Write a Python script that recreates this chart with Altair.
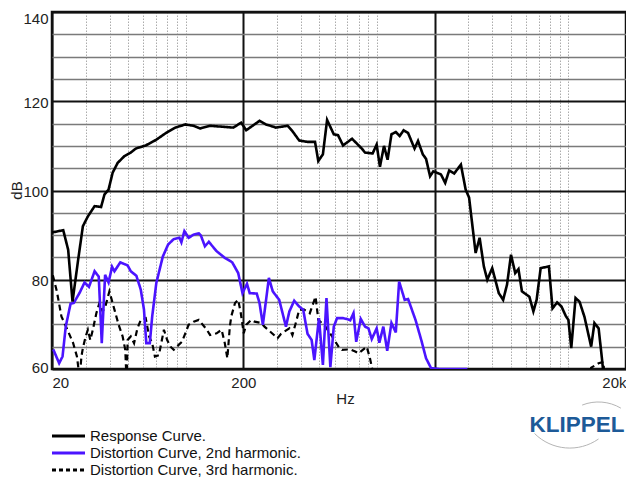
import altair as alt
import pandas as pd

# ---- data ----
resp_f = [20, 22.9, 24.3, 25.6, 27.4, 29, 30.8, 33.4, 36.1, 37.6, 39.5, 41.5, 44.1, 47.8, 51.6, 54.8,
          61.8, 69.7, 78.3, 88.3, 99.5, 110, 119, 134, 177, 195, 207, 243, 263, 296, 341, 361, 392,
          433, 474, 493, 521, 548, 594, 625, 664, 740, 832, 865, 948, 995, 1035, 1087, 1135, 1189,
          1253, 1312, 1377, 1452, 1570, 1637, 1734, 1803, 1892, 1968, 2158, 2270, 2382, 2529, 2742,
          2904, 3027, 3274, 3436, 3614, 3767, 3998, 4326, 4560, 4777, 5012, 5272, 5483, 5715, 6252,
          6561, 6823, 7161, 7907, 8260, 8730, 9205, 9684, 10000, 10350, 10900, 11430, 12130, 13150,
          13680, 14390, 15000, 15240]
resp_db = [90.6, 91.1, 86.7, 75.1, 84.5, 92.0, 94.2, 96.5, 96.3, 99.1, 100.2, 104.0, 106.2, 107.7,
           108.5, 109.4, 110.1, 111.3, 112.8, 114.1, 114.8, 114.5, 113.9, 114.5, 114.1, 115.2, 113.5,
           115.6, 114.8, 114.1, 114.5, 113.3, 111.2, 110.9, 110.9, 106.6, 108.1, 115.8, 112.6, 112.4,
           110.1, 111.6, 109.4, 108.5, 108.3, 110.3, 105.3, 110.0, 106.9, 112.6, 113.1, 112.2, 113.5,
           112.9, 109.4, 111.1, 108.1, 107.1, 103.2, 104.3, 103.6, 101.7, 104.5, 103.8, 105.8, 100.2,
           98.4, 86.0, 89.4, 83.0, 80.0, 82.6, 77.0, 75.5, 78.9, 85.6, 81.5, 82.4, 77.4, 76.2, 72.9,
           75.5, 82.6, 83.0, 73.6, 74.9, 74.0, 71.9, 71.0, 64.7, 75.9, 75.1, 71.7, 65.0, 70.3, 69.1,
           62.0, 59.0]

h2_f = [20.3, 21.8, 22.7, 23.6, 25, 26, 27.9, 29.6, 31.2, 33.4, 35.1, 36.4, 37.9, 39.5, 41.2, 42.4,
        45.5, 49.7, 51.6, 55.2, 58.2, 60.5, 62.2, 64.9, 66.8, 70.2, 75.9, 80.9, 86.5, 92.7, 94.9,
        98.4, 103.5, 110, 117, 120, 126, 132, 145, 160, 175, 188, 198, 209, 216, 235, 243, 253, 272,
        285, 308, 334, 348, 369, 392, 411, 433, 455, 470, 497, 521, 544, 570, 594, 618, 664, 697,
        724, 753, 778, 822, 865, 902, 938, 995, 1028, 1078, 1130, 1189, 1253, 1304, 1394, 1452,
        1588, 1702, 1803, 1915, 2114, 2372, 2966]
h2_db = [64.4, 61.3, 62.8, 69.5, 74.6, 74.8, 77.1, 79.4, 78.4, 81.9, 80.7, 65.8, 81.1, 79.4, 82.9,
         81.9, 83.9, 83.2, 81.9, 80.9, 77.8, 73.3, 65.8, 65.8, 71.8, 79.3, 85.2, 87.9, 89.1, 89.4,
         88.4, 90.9, 89.4, 90.1, 90.4, 89.9, 87.5, 88.5, 86.4, 84.9, 83.9, 81.5, 77.0, 79.1, 77.0,
         76.9, 74.8, 69.9, 80.4, 77.4, 75.5, 69.5, 72.9, 75.3, 74.0, 73.3, 67.9, 66.5, 62.0, 71.4,
         60.9, 75.9, 60.4, 69.5, 71.4, 71.4, 71.2, 70.9, 72.5, 66.1, 71.2, 69.5, 69.1, 66.7, 69.1,
         65.9, 69.5, 64.1, 70.3, 68.2, 79.6, 75.5, 75.7, 71.0, 66.5, 62.4, 60.2, 60.0, 60.0, 60.0]

h3_f = [20.2, 21.2, 22.4, 24.3, 25.8, 27, 27.9, 28.5, 29, 30, 30.8, 31.7, 32.7, 34.1, 35.4, 36.8, 38,
        39.9, 42.4, 44.6, 46.8, 48.3, 49.1, 49.7, 51.6, 53.7, 55.9, 58.2, 61.8, 64.3, 66.8, 69, 72.4,
        76.9, 80, 83.2, 86.5, 91.8, 95.5, 99.5, 103.5, 110, 117, 129, 134, 145, 154, 160, 165, 170,
        173, 181, 188, 194, 201, 207, 220, 229, 248, 258, 302, 315, 348, 361, 376, 392, 416, 445,
        477, 493, 538, 582, 631, 656, 724, 769, 800, 883, 918, 938, 972, 12500, 13150, 14390,
        15240, 15500]
h3_db = [81.0, 77.4, 71.8, 68.4, 65.8, 62.8, 58.0, 62.8, 64.7, 67.3, 68.8, 66.5, 68.8, 72.5, 74.8,
         72.9, 74.0, 77.4, 73.3, 69.9, 67.3, 64.3, 57.0, 66.5, 67.3, 65.8, 69.1, 71.0, 71.4, 67.3,
         65.8, 62.8, 63.1, 68.8, 66.5, 65.0, 64.3, 65.4, 66.1, 68.0, 69.9, 70.6, 71.0, 68.8, 67.6,
         68.0, 68.8, 65.8, 62.4, 69.5, 71.8, 74.8, 75.5, 72.5, 68.0, 69.9, 71.0, 70.6, 70.3, 69.5,
         66.9, 67.9, 69.1, 67.6, 70.3, 73.3, 73.3, 72.5, 76.2, 71.0, 69.5, 67.3, 64.9, 64.3, 64.4,
         63.9, 63.5, 65.0, 62.4, 60.5, 57.0, 57.0, 60.3, 61.3, 61.6, 57.0]

series_names = ["Response Curve.", "Distortion Curve, 2nd harmonic.", "Distortion Curve, 3rd harmonic."]
series_colors = ["#000000", "#4b14ff", "#000000"]

x_ticks = [20, 30, 40, 50, 60, 70, 80, 90, 100, 200, 300, 400, 500, 600, 700, 800, 900, 1000,
           2000, 3000, 4000, 5000, 6000, 7000, 8000, 9000, 10000, 20000]
y_ticks = [60, 65, 70, 75, 80, 85, 90, 95, 100, 105, 110, 115, 120, 125, 130, 135, 140]

FONT = "Liberation Sans"

df_r = pd.DataFrame({"f": resp_f, "db": resp_db})
df_2 = pd.DataFrame({"f": h2_f, "db": h2_db})
df_3 = pd.DataFrame({"f": h3_f, "db": h3_db})

xmaj = "indexof([20,200,2000,20000], datum.value) >= 0"
ymaj = "datum.value % 20 === 0"

W, H = 574, 357

xscale = alt.Scale(type="log", domain=[20, 20000], nice=False)
yscale = alt.Scale(domain=[60, 140], nice=False, zero=False)

xaxis = alt.Axis(
    values=x_ticks, title="Hz", ticks=False, tickSize=0, domain=False,
    labelExpr="datum.value == 20 ? '20' : datum.value == 200 ? '200' : datum.value == 20000 ? '20k' : ''",
    labelFlush=True, labelOverlap=False, labelPadding=6, labelFontSize=15, labelFont=FONT,
    labelColor="#222", titleFontSize=15, titleFont=FONT, titleFontWeight="normal",
    titleColor="#222", titlePadding=1, titleX=293,
    grid=True,
    gridColor={"condition": {"test": xmaj, "value": "#111111"}, "value": "#ababab"},
    gridDash={"condition": {"test": xmaj, "value": [1, 0]}, "value": [1.5, 1.5]},
    gridWidth={"condition": {"test": xmaj, "value": 2}, "value": 1},
)
yaxis = alt.Axis(
    values=y_ticks, title="dB", ticks=False, tickSize=0, domain=False,
    labelExpr="datum.value % 20 === 0 ? datum.label : ''",
    labelOverlap=False, labelPadding=4, labelFontSize=15, labelFont=FONT, labelColor="#222",
    labelOffset={"condition": [{"test": "datum.value === 140", "value": 6},
                               {"test": "datum.value === 60", "value": -2}], "value": 1},
    titleFontSize=15, titleFont=FONT, titleFontWeight="normal", titleColor="#222",
    titleX=-36, titleY=178, titleAlign="center", titleBaseline="middle", titleAngle=270,
    grid=True,
    gridColor={"condition": {"test": ymaj, "value": "#111111"}, "value": "#7a7a7a"},
    gridWidth={"condition": {"test": ymaj, "value": 2.2}, "value": 1.6},
)

def curve(df, color, dash, width):
    return alt.Chart(df).mark_line(clip=True, color=color, strokeDash=dash, strokeWidth=width,
                                   strokeJoin="miter").encode(
        x=alt.X("f:Q", scale=xscale, axis=xaxis),
        y=alt.Y("db:Q", scale=yscale, axis=yaxis),
        order=alt.Order("f:Q"),
    )

l3 = curve(df_3, series_colors[2], [6, 4], 2.2)
l2 = curve(df_2, series_colors[1], [1, 0], 2.6)
l1 = curve(df_r, series_colors[0], [1, 0], 2.6)

# ---- legend (drawn manually, below the plot) ----
leg_y = [424, 441, 458]
leg = []
dashes = [[1, 0], [1, 0], [4, 3]]
for i, name in enumerate(series_names):
    leg.append(alt.Chart(pd.DataFrame({"n": [name]})).mark_rule(
        color=series_colors[i], strokeWidth=3, strokeDash=dashes[i]).encode(
        x=alt.value(0), x2=alt.value(33), y=alt.value(leg_y[i])))
    leg.append(alt.Chart(pd.DataFrame({"n": [name]})).mark_text(
        align="left", baseline="middle", fontSize=15, font=FONT, color="#111").encode(
        text="n:N", x=alt.value(38), y=alt.value(leg_y[i])))

logo = alt.Chart(pd.DataFrame({"t": ["KLIPPEL"]})).mark_text(
    align="center", baseline="middle", fontSize=22.5, font=FONT, fontWeight="bold",
    color="#1d5a98").encode(text="t:N", x=alt.value(525), y=alt.value(413))

arc_top = alt.Chart(pd.DataFrame({"a": [0]})).mark_point(
    shape="M -0.36 -0.93 A 1 1 0 0 1 0.52 -0.86", size=7744, filled=False,
    stroke="#b5b5b5", strokeWidth=1, opacity=1).encode(
    x=alt.value(546), y=alt.value(434))
arc_bot = alt.Chart(pd.DataFrame({"a": [0]})).mark_point(
    shape="M 0.57 0.82 A 1 1 0 0 1 -0.71 0.71", size=10000, filled=False,
    stroke="#b5b5b5", strokeWidth=1, opacity=1).encode(
    x=alt.value(518), y=alt.value(386))

chart = alt.layer(l3, l2, l1, *leg, logo, arc_top, arc_bot).properties(
    width=W, height=H,
    padding={"left": 44, "top": 4, "right": 0, "bottom": 109},
    autosize=alt.AutoSizeParams(type="none"),
    background="white",
).configure_view(stroke="#111111", strokeWidth=2.5)

chart.save("out.html", embed_options={"renderer": "svg", "actions": False})
